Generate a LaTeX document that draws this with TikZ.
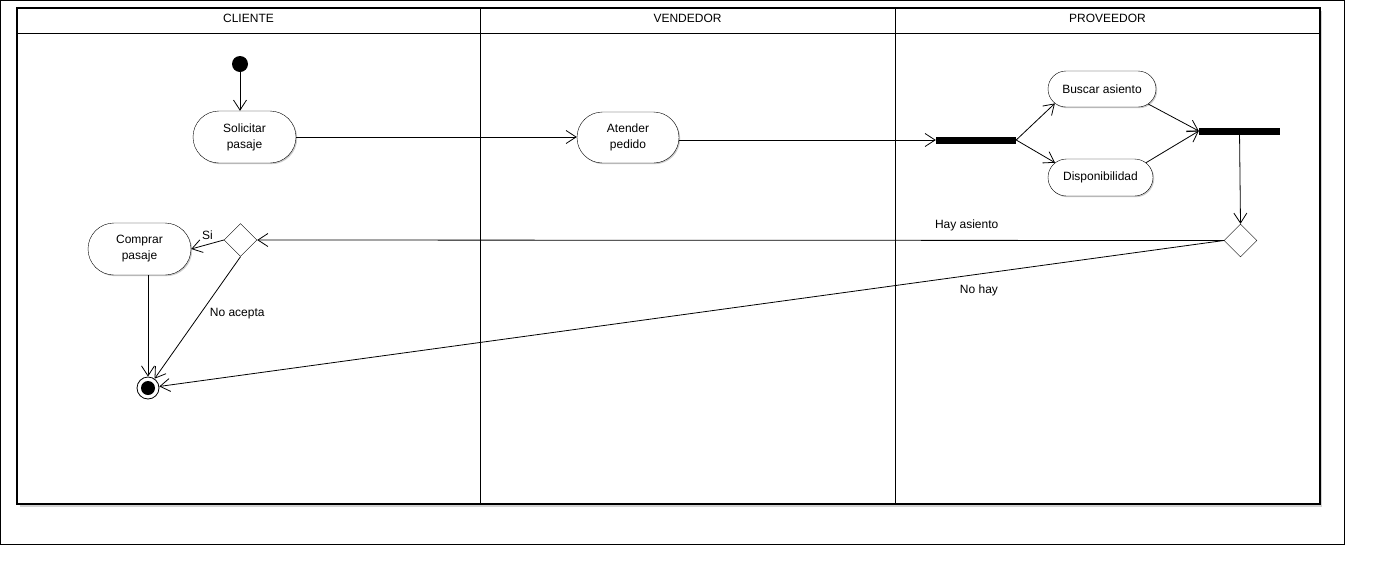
\documentclass[tikz,border=0pt]{standalone}
\usepackage{fontspec}
\setmainfont{Liberation Sans}
\usetikzlibrary{arrows.meta, shapes.misc, shapes.geometric, shadows}

\begin{document}
\begin{tikzpicture}[x=1pt, y=-1pt,
    >={Straight Barb[length=10pt, width=13pt]},
    frame/.style={draw=black, line width=1.2pt},
    lane/.style={draw=black, line width=0.9pt},
    act/.style={draw, rounded rectangle, align=center, fill=white, inner sep=0pt,
      font=\fontsize{12}{16}\selectfont,
      drop shadow={shadow xshift=1.2pt, shadow yshift=-1.2pt, fill=gray!40, opacity=1}},
    bar/.style={fill=black, inner sep=0pt, minimum width=80pt, minimum height=7pt},
    choice/.style={draw, diamond, fill=white, inner sep=0pt, minimum size=33pt},
    tag/.style={font=\fontsize{12}{14}\selectfont},
    flow/.style={->, line width=0.8pt}
  ]
    \useasboundingbox (0,0) rectangle (1382,582);
    \draw[line width=1pt] (0.5,0.5) rectangle (1344,544);
    \fill[gray!35] (19.5,10.5) rectangle (1322,506.5);
    \draw[frame, fill=white] (17,8) rectangle (1320,504);
    \draw[lane] (17,33) -- (1320,33);
    \draw[lane] (480,8) -- (480,504);
    \draw[lane] (895,8) -- (895,504);
    \node[tag] (hCli) at (248.5,18) {CLIENTE};
    \node[tag] (hVen) at (687.5,18) {VENDEDOR};
    \node[tag] (hPro) at (1107.5,18) {PROVEEDOR};

    \node[circle, fill=black, inner sep=0pt, minimum size=16pt] (inicio) at (240,64) {};
    \node[act, minimum width=103pt, minimum height=52pt] (solic) at (244.5,137) {Solicitar\\pasaje};
    \node[act, minimum width=102pt, minimum height=51pt] (atend) at (628,137.5) {Atender\\pedido};
    \node[bar] (fork) at (976,140) {};
    \node[act, minimum width=108pt, minimum height=36pt] (busca) at (1102,89) {Buscar asiento};
    \node[act, minimum width=105pt, minimum height=37pt] (dispo) at (1100.5,177.5) {Disponibilidad};
    \node[bar, minimum width=81pt] (join) at (1239.5,131) {};
    \node[choice] (decPro) at (1240.5,240.5) {};
    \node[choice] (decCli) at (240.5,240) {};
    \node[act, minimum width=103pt, minimum height=52pt] (compra) at (139.5,249) {Comprar\\pasaje};
    \node[circle, draw, fill=white, line width=0.8pt, inner sep=0pt, minimum size=22pt,
      path picture={\fill[black] (path picture bounding box.center) circle (7pt);}] (fin) at (148,388) {};

    \draw[flow] (inicio) -- (inicio |- solic.north);
    \draw[flow] (solic.east) -- (solic.east -| atend.west);
    \draw[flow] (atend.east |- fork) -- (fork.west);
    \draw[flow] (fork.east) -- (busca.197);
    \draw[flow] (fork.east) -- (dispo.162);
    \draw[flow] (busca.-18) -- (join.west);
    \draw[flow] (dispo.18) -- (join.west);
    \draw[flow] (join) -- (decPro.north);
    \draw[flow] (decPro.west) -- (decCli.east)
      node[tag, pos=0.266, above=6pt] (lHay) {Hay asiento};
    \draw[flow] (decPro.west) -- (fin)
      node[tag, pos=0.23, below=7pt] (lNoHay) {No hay};
    \draw[flow] (decCli.west) -- (compra.east)
      node[tag, midway, above=1pt] (lSi) {Si};
    \draw[flow] (decCli.south) -- (fin)
      node[tag, pos=0.47, right=6pt] (lNoAc) {No acepta};
    \draw[flow] (fin |- compra.south) -- (fin);
\end{tikzpicture}
\end{document}
